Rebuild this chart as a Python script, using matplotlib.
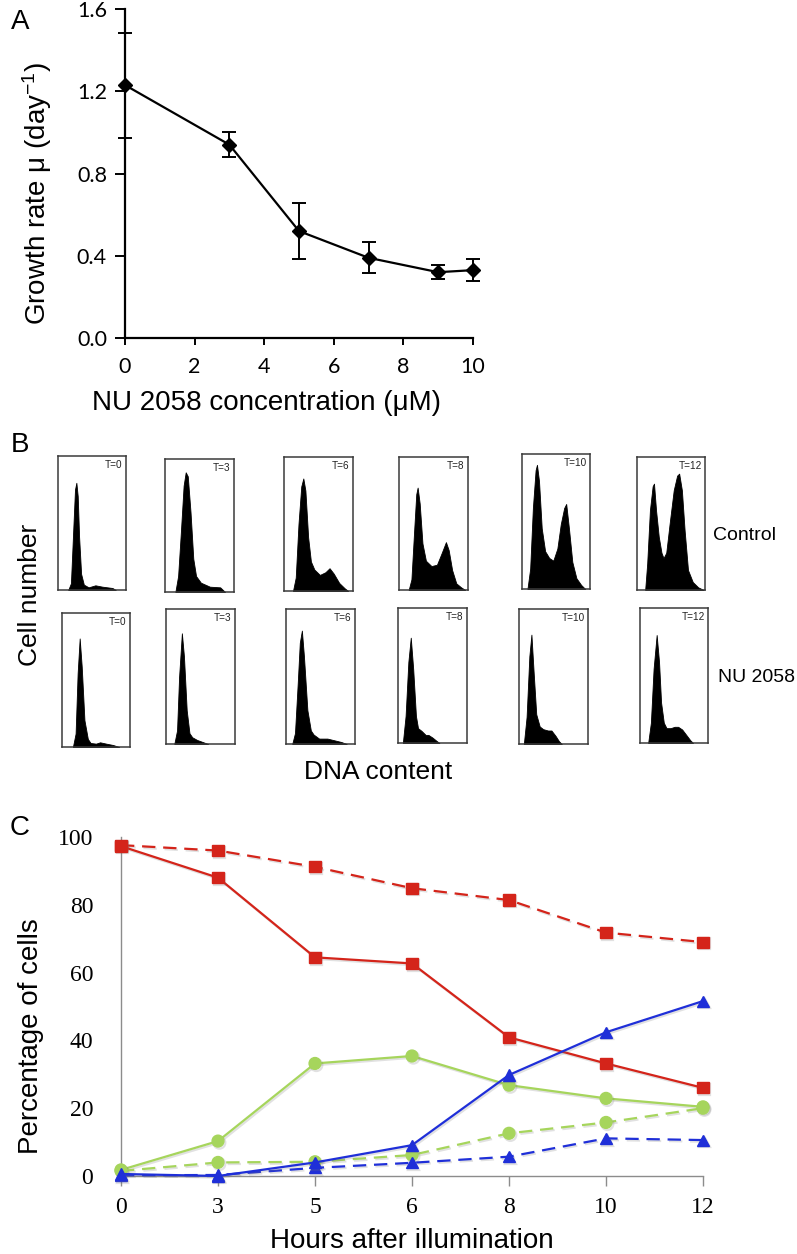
import matplotlib
matplotlib.use("Agg")
import matplotlib.pyplot as plt
import matplotlib.patheffects as pe

# ---- panel A: growth rate vs NU 2058 concentration
conc = [0, 3, 5, 7, 9, 10]
growth = [1.23, 0.94, 0.52, 0.39, 0.32, 0.33]
growth_err = [0.255, 0.06, 0.135, 0.075, 0.035, 0.055]

# ---- panel B: DNA content histograms (x = DNA content, y = relative cell count)
hist_times = ["T=0", "T=3", "T=6", "T=8", "T=10", "T=12"]
control_dna = [
    [0.15, 0.19, 0.22, 0.25, 0.27, 0.29, 0.31, 0.34, 0.38, 0.45, 0.55, 0.65, 0.80, 0.85],
    [0.15, 0.19, 0.23, 0.27, 0.30, 0.33, 0.37, 0.41, 0.45, 0.52, 0.65, 0.80, 0.87],
    [0.13, 0.17, 0.21, 0.25, 0.28, 0.31, 0.35, 0.39, 0.44, 0.52, 0.60, 0.66, 0.72, 0.80, 0.88, 0.93],
    [0.14, 0.18, 0.22, 0.25, 0.27, 0.30, 0.34, 0.39, 0.47, 0.55, 0.62, 0.68, 0.72, 0.77, 0.83, 0.90, 0.96],
    [0.08, 0.12, 0.16, 0.20, 0.22, 0.25, 0.29, 0.34, 0.40, 0.46, 0.52, 0.57, 0.62, 0.65, 0.69, 0.74, 0.80, 0.87, 0.93],
    [0.12, 0.15, 0.19, 0.23, 0.25, 0.28, 0.32, 0.36, 0.39, 0.43, 0.48, 0.54, 0.59, 0.62, 0.66, 0.70, 0.75, 0.82, 0.90, 0.98],
]
control_count = [
    [0.0, 0.05, 0.40, 0.75, 0.80, 0.70, 0.40, 0.12, 0.04, 0.02, 0.035, 0.025, 0.015, 0.0],
    [0.0, 0.12, 0.45, 0.80, 0.90, 0.87, 0.60, 0.25, 0.12, 0.07, 0.04, 0.035, 0.0],
    [0.0, 0.10, 0.50, 0.78, 0.84, 0.75, 0.40, 0.22, 0.16, 0.12, 0.14, 0.17, 0.13, 0.06, 0.02, 0.0],
    [0.0, 0.08, 0.45, 0.72, 0.77, 0.65, 0.35, 0.22, 0.18, 0.19, 0.28, 0.36, 0.30, 0.15, 0.05, 0.02, 0.0],
    [0.0, 0.15, 0.60, 0.88, 0.92, 0.80, 0.45, 0.28, 0.23, 0.21, 0.30, 0.48, 0.60, 0.63, 0.45, 0.20, 0.08, 0.03, 0.0],
    [0.0, 0.20, 0.60, 0.78, 0.80, 0.60, 0.40, 0.28, 0.24, 0.28, 0.50, 0.75, 0.86, 0.875, 0.75, 0.45, 0.15, 0.06, 0.02, 0.0],
]
nu_dna = [
    [0.16, 0.20, 0.23, 0.26, 0.29, 0.33, 0.38, 0.42, 0.50, 0.56, 0.65, 0.75, 0.84],
    [0.12, 0.16, 0.19, 0.23, 0.26, 0.30, 0.34, 0.38, 0.45, 0.53, 0.61],
    [0.09, 0.13, 0.17, 0.20, 0.23, 0.26, 0.31, 0.36, 0.40, 0.48, 0.60, 0.72, 0.80, 0.88],
    [0.07, 0.11, 0.15, 0.185, 0.22, 0.26, 0.29, 0.34, 0.40, 0.44, 0.50, 0.56, 0.60],
    [0.07, 0.11, 0.15, 0.18, 0.21, 0.25, 0.30, 0.35, 0.42, 0.47, 0.53, 0.58, 0.62],
    [0.12, 0.16, 0.20, 0.245, 0.28, 0.31, 0.35, 0.39, 0.45, 0.51, 0.56, 0.62, 0.68, 0.74, 0.78],
]
nu_count = [
    [0.0, 0.10, 0.55, 0.81, 0.60, 0.20, 0.06, 0.03, 0.025, 0.035, 0.025, 0.015, 0.0],
    [0.0, 0.10, 0.50, 0.82, 0.65, 0.25, 0.08, 0.05, 0.03, 0.015, 0.0],
    [0.0, 0.08, 0.45, 0.75, 0.84, 0.65, 0.25, 0.10, 0.07, 0.04, 0.04, 0.025, 0.015, 0.0],
    [0.0, 0.20, 0.60, 0.78, 0.55, 0.20, 0.11, 0.09, 0.06, 0.06, 0.04, 0.015, 0.0],
    [0.0, 0.20, 0.65, 0.81, 0.55, 0.22, 0.13, 0.11, 0.10, 0.10, 0.06, 0.02, 0.0],
    [0.0, 0.15, 0.55, 0.80, 0.60, 0.30, 0.15, 0.11, 0.11, 0.12, 0.12, 0.10, 0.06, 0.02, 0.0],
]

# ---- panel C: percentage of cells after illumination
hours = ["0", "3", "5", "6", "8", "10", "12"]
red_solid = [97.3, 88.0, 64.5, 62.7, 40.9, 33.2, 26.0]
red_dashed = [97.6, 96.0, 91.2, 84.9, 81.4, 71.8, 69.0]
green_solid = [1.8, 10.3, 33.2, 35.4, 26.8, 22.9, 20.4]
green_dashed = [1.5, 4.0, 4.2, 6.2, 12.6, 15.8, 20.0]
blue_solid = [0.6, 0.0, 4.0, 9.1, 29.8, 42.4, 51.6]
blue_dashed = [0.2, 0.3, 2.4, 3.9, 5.7, 11.1, 10.6]

W, H = 797, 1254
fig = plt.figure(figsize=(W / 100, H / 100), dpi=100)


def frac(x0, y0, x1, y1):
    return [x0 / W, 1 - y1 / H, (x1 - x0) / W, (y1 - y0) / H]


def ftext(x, y, s, **kw):
    fig.text(x / W, 1 - y / H, s, **kw)


plt.rcParams['mathtext.fontset'] = 'custom'
plt.rcParams['mathtext.rm'] = 'Liberation Sans'
plt.rcParams['mathtext.it'] = 'Liberation Sans'

# ================= Panel A
axA = fig.add_axes(frac(125, 9, 473, 338))
axA.errorbar(conc, growth, yerr=growth_err, color='black', lw=1.6, marker='D',
             markersize=7.5, capsize=5, elinewidth=1.4, capthick=1.4, clip_on=False, zorder=3)
axA.set_xlim(0, 10)
axA.set_ylim(0, 1.6)
axA.set_xticks([0, 2, 4, 6, 8, 10])
axA.set_yticks([0.0, 0.4, 0.8, 1.2, 1.6])
axA.set_yticklabels(["%.1f" % v for v in [0.0, 0.4, 0.8, 1.2, 1.6]])
for s in ['top', 'right']:
    axA.spines[s].set_visible(False)
for s in ['left', 'bottom']:
    axA.spines[s].set_linewidth(1.6)
axA.tick_params(axis='y', direction='out', length=7, width=1.4, pad=6)
axA.tick_params(axis='x', direction='out', length=5, width=1.4, pad=9)
for lab in axA.get_xticklabels() + axA.get_yticklabels():
    lab.set_fontfamily('Lato')
    lab.set_fontsize(15.5)
ftext(266, 403, "NU 2058 concentration (μM)", ha='center', va='center',
      fontsize=20, family='Liberation Sans')
ftext(37, 193, "Growth rate μ (day$^{-1}$)", ha='center', va='center', rotation=90,
      fontsize=20, family='Liberation Sans')
ftext(20, 22, "A", ha='center', va='center', fontsize=20, family='Liberation Sans')

# ================= Panel B
ctrl_boxes = [(58, 456, 126, 590), (165, 459, 234, 592), (284, 457, 353, 591),
              (399, 457, 468, 590), (522, 454, 590, 589), (637, 457, 705, 590)]
nu_boxes = [(62, 613, 130, 747), (166, 609, 235, 744), (286, 609, 355, 744),
            (398, 608, 467, 743), (519, 609, 588, 744), (640, 608, 708, 743)]


def draw_hist(box, xs, ys, label):
    ax = fig.add_axes(frac(*box))
    ax.fill_between(xs, ys, 0, color='black', lw=0.6, edgecolor='black')
    ax.set_xlim(0, 1)
    ax.set_ylim(0, 1)
    ax.set_xticks([])
    ax.set_yticks([])
    for s in ax.spines.values():
        s.set_color('#3a3a3a')
        s.set_linewidth(1.1)
    ax.text(0.95, 0.97, label, transform=ax.transAxes, ha='right', va='top',
            fontsize=7.2, family='Liberation Sans', color='#222222')


for i in range(6):
    draw_hist(ctrl_boxes[i], control_dna[i], control_count[i], hist_times[i])
    draw_hist(nu_boxes[i], nu_dna[i], nu_count[i], hist_times[i])

ftext(745, 535, "Control", ha='center', va='center', fontsize=14, family='Liberation Sans')
ftext(756, 677, "NU 2058", ha='center', va='center', fontsize=14, family='Liberation Sans')
ftext(378, 772, "DNA content", ha='center', va='center', fontsize=19, family='Liberation Sans')
ftext(30, 595, "Cell number", ha='center', va='center', rotation=90, fontsize=19,
      family='Liberation Sans')
ftext(20, 445, "B", ha='center', va='center', fontsize=20, family='Liberation Sans')

# ================= Panel C
axC = fig.add_axes(frac(121, 837, 703, 1176))
xi = list(range(len(hours)))
shadow = [pe.SimpleLineShadow(offset=(1.0, -1.2), shadow_color='#777777', alpha=0.22, linewidth=1.6),
          pe.Normal()]
series = [
    (red_dashed, '#d4241a', 's', '--', 8),
    (red_solid, '#d4241a', 's', '-', 8),
    (green_solid, '#a6d55c', 'o', '-', 8.5),
    (green_dashed, '#a6d55c', 'o', '--', 8.5),
    (blue_dashed, '#1f2fd8', '^', '--', 8),
    (blue_solid, '#1f2fd8', '^', '-', 8),
]
for vals, col, mk, ls, ms in series:
    ln, = axC.plot(xi, vals, color=col, marker=mk, linestyle=ls, lw=1.6, markersize=ms,
                   clip_on=False, zorder=3)
    if ls == '--':
        ln.set_dashes([6, 3.5])
    ln.set_path_effects(shadow)
axC.set_xlim(0, len(hours) - 1)
axC.set_ylim(0, 100)
axC.set_xticks(xi)
axC.set_xticklabels(hours)
axC.set_yticks([0, 20, 40, 60, 80, 100])
for s in ['top', 'right']:
    axC.spines[s].set_visible(False)
for s in ['left', 'bottom']:
    axC.spines[s].set_color('#8c8c8c')
    axC.spines[s].set_linewidth(1.0)
axC.tick_params(axis='x', direction='out', length=7, width=1.0, color='#8c8c8c', pad=8)
axC.tick_params(axis='y', direction='out', length=0, pad=20)
for lab in axC.get_xticklabels() + axC.get_yticklabels():
    lab.set_fontfamily('Liberation Serif')
    lab.set_fontsize(17)
ftext(412, 1241, "Hours after illumination", ha='center', va='center', fontsize=20,
      family='Liberation Sans')
ftext(31, 1036, "Percentage of cells", ha='center', va='center', rotation=90, fontsize=20,
      family='Liberation Sans')
ftext(20, 828, "C", ha='center', va='center', fontsize=20, family='Liberation Sans')

fig.savefig("out.png", dpi=100)
